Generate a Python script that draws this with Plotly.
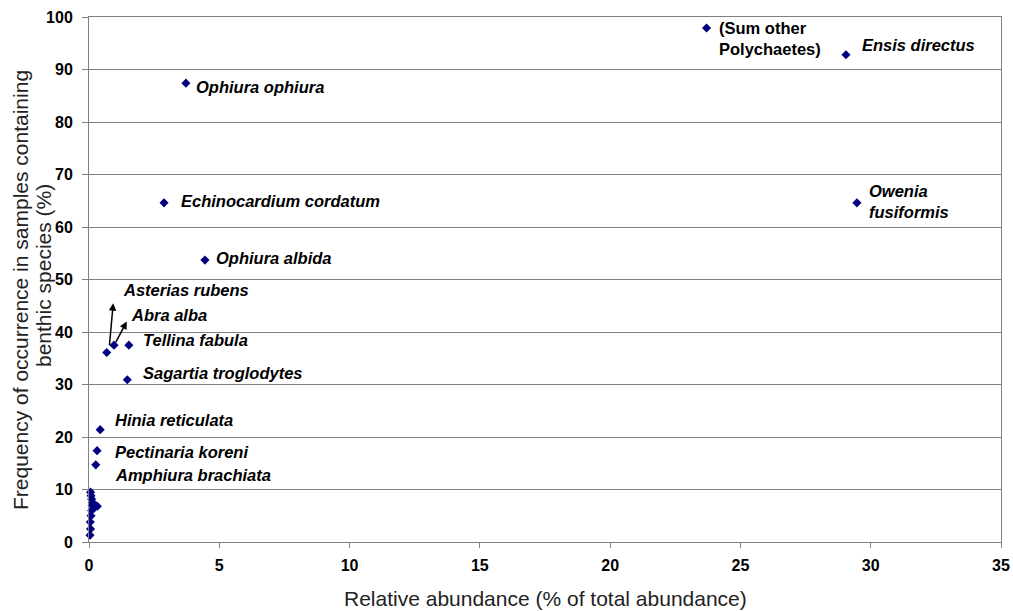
import plotly.graph_objects as go

# ---- data ----
species = [
    "(Sum other<br>Polychaetes)", "Ensis directus", "Ophiura ophiura", "Echinocardium cordatum",
    "Owenia<br>fusiformis", "Ophiura albida", "Asterias rubens", "Abra alba", "Tellina fabula",
    "Sagartia troglodytes", "Hinia reticulata", "Pectinaria koreni", "Amphiura brachiata",
]
abundance = [23.7, 29.05, 3.72, 2.88, 29.47, 4.45, 0.68, 0.96, 1.53, 1.47, 0.43, 0.31, 0.26]
frequency = [97.9, 92.8, 87.4, 64.6, 64.6, 53.7, 36.1, 37.5, 37.5, 30.9, 21.4, 17.4, 14.7]

# unlabelled rare species near the origin
rare_abundance = [0.04, 0.06, 0.05, 0.08, 0.10, 0.20, 0.32, 0.12, 0.15, 0.10, 0.08, 0.06]
rare_frequency = [1.3, 2.5, 3.8, 5.0, 6.0, 6.5, 6.8, 7.0, 7.5, 8.2, 8.8, 9.5]

# label anchor positions (data units) for each species
label_x = [24.1, 29.59, 4.03, 3.45, 29.85, 4.80, 1.23, 1.53, 2.0, 2.0, 0.92, 0.92, 0.92]
label_y = [95.9, 94.7, 86.7, 65.0, 64.8, 54.1, 48.0, 43.2, 38.5, 32.2, 23.2, 17.1, 12.8]
italic = [False] + [True] * 12

# arrows (tail -> head) for Asterias rubens and Abra alba
arrow_tail_x = [0.78, 1.00]
arrow_tail_y = [37.2, 37.8]
arrow_head_x = [0.93, 1.45]
arrow_head_y = [45.5, 42.0]

x_ticks = [0, 5, 10, 15, 20, 25, 30, 35]
y_ticks = [0, 10, 20, 30, 40, 50, 60, 70, 80, 90, 100]

x_title = "Relative abundance (% of total abundance)"
y_title_lines = ["Frequency of occurrence in samples containing", "benthic species (%)"]

FONT = "Liberation Sans, Arial, sans-serif"
W, H = 1013, 611
ML, MR, MT, MB = 89, 12, 17, 69

fig = go.Figure()
fig.add_trace(go.Scatter(
    x=abundance + rare_abundance, y=frequency + rare_frequency, mode="markers",
    marker=dict(symbol="diamond", size=7, color="#000080"),
    hoverinfo="x+y", showlegend=False, cliponaxis=False,
))

for name, lx, ly, it in zip(species, label_x, label_y, italic):
    txt = f"<b><i>{name}</i></b>" if it else f"<b>{name}</b>"
    fig.add_annotation(x=lx, y=ly, text=txt, showarrow=False, xanchor="left", yanchor="middle",
                       align="left", font=dict(family=FONT, size=16.5, color="#000000"))

for tx, ty, hx, hy in zip(arrow_tail_x, arrow_tail_y, arrow_head_x, arrow_head_y):
    fig.add_annotation(x=hx, y=hy, ax=tx, ay=ty, xref="x", yref="y", axref="x", ayref="y",
                       text="", showarrow=True, arrowhead=2, arrowsize=1, arrowwidth=1.5,
                       arrowcolor="#000000")

pw = W - ML - MR
ph = H - MT - MB
# axis titles as annotations (paper coords relative to plot area)
fig.add_annotation(xref="paper", yref="paper", x=(545 - ML) / pw, y=-(598 - (H - MB)) / ph,
                   text=x_title, showarrow=False, xanchor="center", yanchor="middle",
                   font=dict(family=FONT, size=21, color="#222222"))
for line, cx, cy in zip(y_title_lines, [20, 43], [290, 276]):
    fig.add_annotation(xref="paper", yref="paper", x=-(ML - cx) / pw, y=((H - MB) - cy) / ph,
                       text=line, showarrow=False, xanchor="center", yanchor="middle",
                       textangle=-90, font=dict(family=FONT, size=21, color="#222222"))

fig.update_layout(
    width=W, height=H,
    margin=dict(l=ML, r=MR, t=MT, b=MB, autoexpand=False),
    plot_bgcolor="white", paper_bgcolor="white",
    font=dict(family=FONT, color="#000000"),
    xaxis=dict(
        range=[0, 35], tickvals=x_ticks, ticktext=[f"<b>{v}</b>" for v in x_ticks],
        showgrid=False, zeroline=False, showline=True, linecolor="#808080", linewidth=1,
        mirror=True, ticks="outside", ticklen=5, tickcolor="#808080",
        ticklabelstandoff=4, automargin=False,
        tickfont=dict(size=16, color="#000000"),
    ),
    yaxis=dict(
        range=[0, 100], tickvals=y_ticks, ticktext=[f"<b>{v}</b>" for v in y_ticks],
        showgrid=True, gridcolor="#808080", gridwidth=1, zeroline=False,
        showline=True, linecolor="#808080", linewidth=1, mirror=True,
        ticks="outside", ticklen=6, tickcolor="#808080",
        ticklabelstandoff=6, automargin=False,
        tickfont=dict(size=16, color="#000000"),
    ),
)

fig.write_html("out.html", config={"displayModeBar": False},
               post_script="document.body.style.margin='0';document.body.style.overflow='hidden';")
